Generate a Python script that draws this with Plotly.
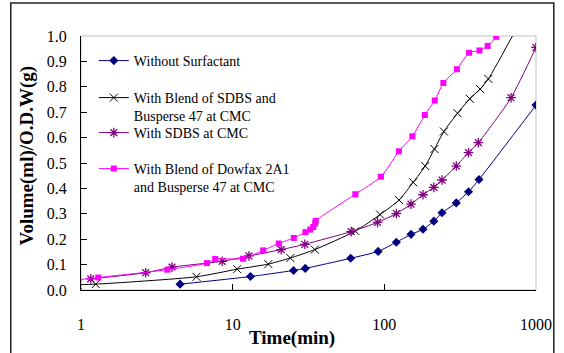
import plotly.graph_objects as go

# ---- data ----
t_without = [4.5, 13.1, 25.2, 30.1, 60, 91, 120, 150, 180, 212, 240, 298, 359, 421, 1000]
v_without = [0.023, 0.053, 0.077, 0.085, 0.125, 0.152, 0.188, 0.219, 0.239, 0.271, 0.304, 0.343, 0.387, 0.435, 0.728]

t_sdbs_blend = [0.95, 1.25, 5.77, 10.7, 17.2, 24.0, 34.8, 64.4, 93.8, 125, 155, 186, 214, 247, 304, 366, 428, 485, 760]
v_sdbs_blend = [0.021, 0.023, 0.052, 0.082, 0.102, 0.126, 0.159, 0.232, 0.297, 0.354, 0.424, 0.488, 0.555, 0.624, 0.696, 0.753, 0.791, 0.831, 1.04]

t_sdbs = [1.16, 2.67, 3.98, 8.53, 12.8, 20.9, 29.9, 60.4, 90.2, 120, 150, 180, 212, 240, 298, 359, 417, 685, 1000]
v_sdbs = [0.044, 0.068, 0.090, 0.113, 0.134, 0.159, 0.180, 0.230, 0.266, 0.301, 0.338, 0.375, 0.404, 0.433, 0.488, 0.541, 0.580, 0.757, 0.955]

t_dowfax = [0.95, 1.30, 3.71, 6.77, 7.67, 11.7, 15.9, 20.1, 25.3, 30.2, 32.5, 34.0, 35.0, 35.3, 64.4, 95,
            124.7, 153, 185, 215, 245, 301, 362, 424, 480, 547, 590]
v_dowfax = [0.040, 0.049, 0.080, 0.106, 0.122, 0.123, 0.156, 0.183, 0.205, 0.228, 0.238, 0.248, 0.262, 0.272, 0.377, 0.446,
            0.546, 0.605, 0.689, 0.746, 0.815, 0.869, 0.934, 0.943, 0.961, 0.997, 1.04]

names = ["Without Surfactant",
         "With Blend of SDBS and<br>Busperse 47 at CMC",
         "With SDBS at CMC",
         "With Blend of Dowfax 2A1<br>and Busperse 47 at CMC"]

y_ticks = [0.0, 0.1, 0.2, 0.3, 0.4, 0.5, 0.6, 0.7, 0.8, 0.9, 1.0]
x_ticks = [1, 10, 100, 1000]

FONT = "Times New Roman"

fig = go.Figure()

fig.add_trace(go.Scatter(x=t_without, y=v_without, name=names[0], mode="lines+markers",
                         line=dict(color="#000080", width=1, shape="spline", smoothing=0.6),
                         marker=dict(symbol="diamond", size=7, color="#000080"),
                         legend="legend", showlegend=True))
fig.add_trace(go.Scatter(x=t_sdbs_blend, y=v_sdbs_blend, name=names[1], mode="lines+markers",
                         line=dict(color="#000000", width=1, shape="spline", smoothing=0.6),
                         marker=dict(symbol="x-thin-open", size=8, color="#000000",
                                     line=dict(color="#000000", width=1)),
                         legend="legend2", showlegend=True))
fig.add_trace(go.Scatter(x=t_sdbs, y=v_sdbs, name=names[2], mode="lines+markers",
                         line=dict(color="#800080", width=1, shape="spline", smoothing=0.6),
                         marker=dict(symbol="asterisk-open", size=8, color="#800080",
                                     line=dict(color="#800080", width=1.3)),
                         legend="legend3", showlegend=True))
fig.add_trace(go.Scatter(x=t_dowfax, y=v_dowfax, name=names[3], mode="lines+markers",
                         line=dict(color="#FF00FF", width=1, shape="spline", smoothing=0.6),
                         marker=dict(symbol="square", size=6, color="#FF00FF"),
                         legend="legend4", showlegend=True))

W, H = 564, 353
L, R, T, B = 81, 23, 36, 63
pw, ph = W - L - R, H - T - B

def px_x(px):
    return (px - L) / pw

def px_y(py):
    return (H - B - py) / ph

leg_common = dict(xanchor="left", yanchor="top", bgcolor="rgba(0,0,0,0)",
                  font=dict(family=FONT, size=14, color="#000000"), valign="top",
                  borderwidth=0, tracegroupgap=0, visible=True)

fig.update_layout(
    width=W, height=H,
    margin=dict(l=L, r=R, t=T, b=B),
    showlegend=True,
    paper_bgcolor="white", plot_bgcolor="white",
    font=dict(family=FONT, size=16, color="#000000"),
    legend=dict(x=px_x(94), y=px_y(45), **leg_common),
    legend2=dict(x=px_x(94), y=px_y(82), **leg_common),
    legend3=dict(x=px_x(94), y=px_y(117), **leg_common),
    legend4=dict(x=px_x(94), y=px_y(153), **leg_common),
    xaxis=dict(type="log", range=[0, 3], tickvals=x_ticks, ticktext=[str(v) for v in x_ticks],
               showgrid=False, zeroline=False, showline=True, linecolor="#000000", linewidth=1,
               ticks="inside", ticklen=6, tickcolor="#000000",
               ticklabelstandoff=20, tickfont=dict(family=FONT, size=16)),
    yaxis=dict(range=[0, 1], tickvals=y_ticks, ticktext=[f"{v:.1f}" for v in y_ticks],
               showgrid=False, zeroline=False, showline=True, linecolor="#000000", linewidth=1,
               ticks="inside", ticklen=6, tickcolor="#000000",
               ticklabelstandoff=10, tickfont=dict(family=FONT, size=16)),
    shapes=[
        dict(type="rect", xref="paper", yref="paper", x0=0, x1=1, y0=0, y1=1,
             line=dict(color="#C0C0C0", width=1), layer="below"),
        dict(type="rect", xref="paper", yref="paper", x0=px_x(10), x1=px_x(559),
             y0=px_y(360), y1=px_y(3), line=dict(color="#222222", width=1.5)),
    ],
    annotations=[
        dict(text="<b>Time(min)</b>", xref="paper", yref="paper", x=px_x(294), y=px_y(338),
             xanchor="center", yanchor="middle", showarrow=False,
             font=dict(family=FONT, size=19, color="#000000")),
        dict(text="<b>Volume(ml)/O.D.W(g)</b>", xref="paper", yref="paper", x=px_x(26), y=px_y(156),
             xanchor="center", yanchor="middle", showarrow=False, textangle=-90,
             font=dict(family=FONT, size=19, color="#000000")),
    ],
)

fig.write_html("out.html")
